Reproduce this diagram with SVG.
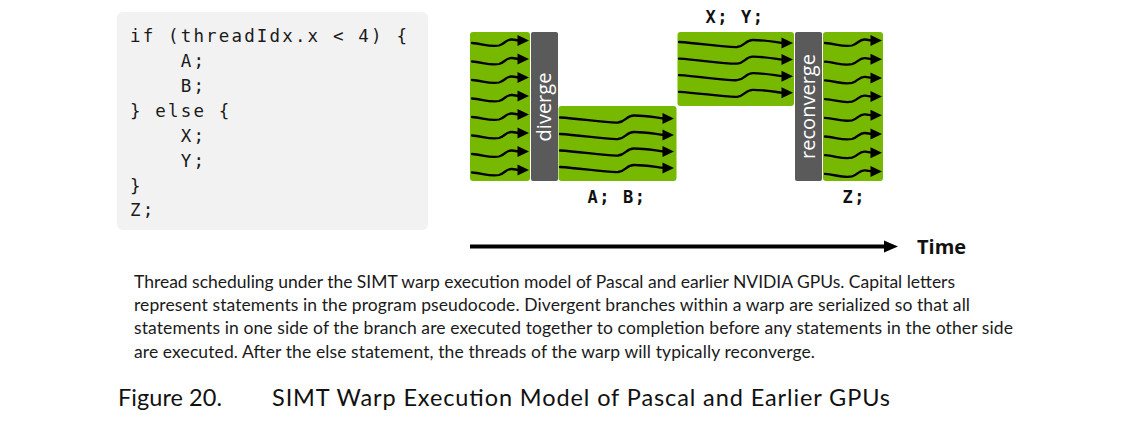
<svg xmlns="http://www.w3.org/2000/svg" xmlns:xlink="http://www.w3.org/1999/xlink" width="1127" height="431" viewBox="0 0 1127 431">
<style>
.code{font-family:"DejaVu Sans Mono","Liberation Mono",monospace;font-size:17.5px;letter-spacing:2.15px;fill:#1a1a1a}
.lbl{font-family:"DejaVu Sans Mono","Liberation Mono",monospace;font-size:17px;font-weight:bold;letter-spacing:1.6px;fill:#111}
.blk{fill:#76b900}
.bar{fill:#5a5a5a}
.vt{font-family:"Open Sans","Noto Sans",sans-serif;font-size:20px;fill:#ffffff;text-anchor:middle}
.wire{fill:none;stroke:#000;stroke-width:2.3;stroke-linecap:round}
.cap{font-family:Lato,"Open Sans",sans-serif;font-size:17.5px;fill:#1a1a1a}
.ttl{font-family:Lato,"Open Sans",sans-serif;font-size:23.5px;fill:#111}
</style>
<defs>
<g id="sa">
<path class="wire" d="M0,2.5 C10,3 18,7 27,5 C33,3.5 34,-1.5 40,-1 L47,0"/>
<polygon points="45.5,-5.5 57,0 45.5,5.5" fill="#000"/>
</g>
<g id="la">
<path class="wire" d="M0,-1 C20,0 45,4.5 58,4 C66,3.5 66,-3 74,-3 C85,-3 95,-1 104,0"/>
<polygon points="102.5,-5.5 114,0 102.5,5.5" fill="#000"/>
</g>
</defs>
<rect width="1127" height="431" fill="#ffffff"/>

<g id="code">
<rect x="117" y="12" width="311" height="218" rx="6" fill="#f2f2f2"/>
<text class="code" x="130" y="42">if (threadIdx.x &lt; 4) {</text>
<text class="code" x="180.8" y="67">A;</text>
<text class="code" x="180.8" y="92">B;</text>
<text class="code" x="130" y="116.5">} else {</text>
<text class="code" x="180.8" y="141.5">X;</text>
<text class="code" x="180.8" y="166.5">Y;</text>
<text class="code" x="130" y="191.5">}</text>
<text class="code" x="130" y="216">Z;</text>
</g>

<g id="warp-start">
<rect class="blk" x="470" y="32" width="60" height="149" rx="3"/>
<use xlink:href="#sa" x="472" y="40.5"/>
<use xlink:href="#sa" x="472" y="59"/>
<use xlink:href="#sa" x="472" y="77.5"/>
<use xlink:href="#sa" x="472" y="96"/>
<use xlink:href="#sa" x="472" y="114.5"/>
<use xlink:href="#sa" x="472" y="133"/>
<use xlink:href="#sa" x="472" y="151.5"/>
<use xlink:href="#sa" x="472" y="170"/>
</g>

<g id="diverge">
<rect class="bar" x="531" y="32" width="27" height="149" rx="2"/>
<text class="vt" transform="translate(550.5,107) rotate(-90)">diverge</text>
</g>

<g id="branch-ab">
<rect class="blk" x="558.5" y="106" width="118" height="75" rx="3"/>
<use xlink:href="#la" x="560" y="118.5"/>
<use xlink:href="#la" x="560" y="135"/>
<use xlink:href="#la" x="560" y="151.5"/>
<use xlink:href="#la" x="560" y="168"/>
<text class="lbl" x="587.5" y="203">A; B;</text>
</g>

<g id="branch-xy">
<rect class="blk" x="677.5" y="32" width="116.5" height="74" rx="3"/>
<use xlink:href="#la" x="679" y="43"/>
<use xlink:href="#la" x="679" y="59.6"/>
<use xlink:href="#la" x="679" y="76.2"/>
<use xlink:href="#la" x="679" y="92.8"/>
<text class="lbl" x="705.5" y="22.5">X; Y;</text>
</g>

<g id="reconverge">
<rect class="bar" x="795" y="32" width="27" height="149" rx="2"/>
<text class="vt" transform="translate(815,106.5) rotate(-90)">reconverge</text>
</g>

<g id="warp-z">
<rect class="blk" x="823" y="32" width="60" height="149" rx="3"/>
<use xlink:href="#sa" x="825" y="40.5"/>
<use xlink:href="#sa" x="825" y="59.2"/>
<use xlink:href="#sa" x="825" y="77.9"/>
<use xlink:href="#sa" x="825" y="96.6"/>
<use xlink:href="#sa" x="825" y="115.3"/>
<use xlink:href="#sa" x="825" y="134"/>
<use xlink:href="#sa" x="825" y="152.7"/>
<use xlink:href="#sa" x="825" y="171.4"/>
<text class="lbl" x="842.5" y="203">Z;</text>
</g>

<g id="connectors">
<line x1="470" y1="246.5" x2="886" y2="246.5" stroke="#000" stroke-width="4"/>
<polygon points="884,240.5 898,246.5 884,252.5" fill="#000"/>
</g>
<g id="time-label">
<text x="917" y="253.5" font-family="'Open Sans','Noto Sans',sans-serif" font-size="20" font-weight="bold" fill="#111">Time</text>
</g>

<g id="caption">
<text class="cap" x="134" y="288" textLength="821" lengthAdjust="spacing">Thread scheduling under the SIMT warp execution model of Pascal and earlier NVIDIA GPUs. Capital letters</text>
<text class="cap" x="134" y="311" textLength="836" lengthAdjust="spacing">represent statements in the program pseudocode. Divergent branches within a warp are serialized so that all</text>
<text class="cap" x="134" y="334.3" textLength="879" lengthAdjust="spacing">statements in one side of the branch are executed together to completion before any statements in the other side</text>
<text class="cap" x="134" y="357.5" textLength="681" lengthAdjust="spacing">are executed. After the else statement, the threads of the warp will typically reconverge.</text>
</g>

<g id="title">
<text class="ttl" x="118" y="406" textLength="104" lengthAdjust="spacing">Figure 20.</text>
<text class="ttl" x="272" y="406" textLength="618" lengthAdjust="spacing">SIMT Warp Execution Model of Pascal and Earlier GPUs</text>
</g>
</svg>
